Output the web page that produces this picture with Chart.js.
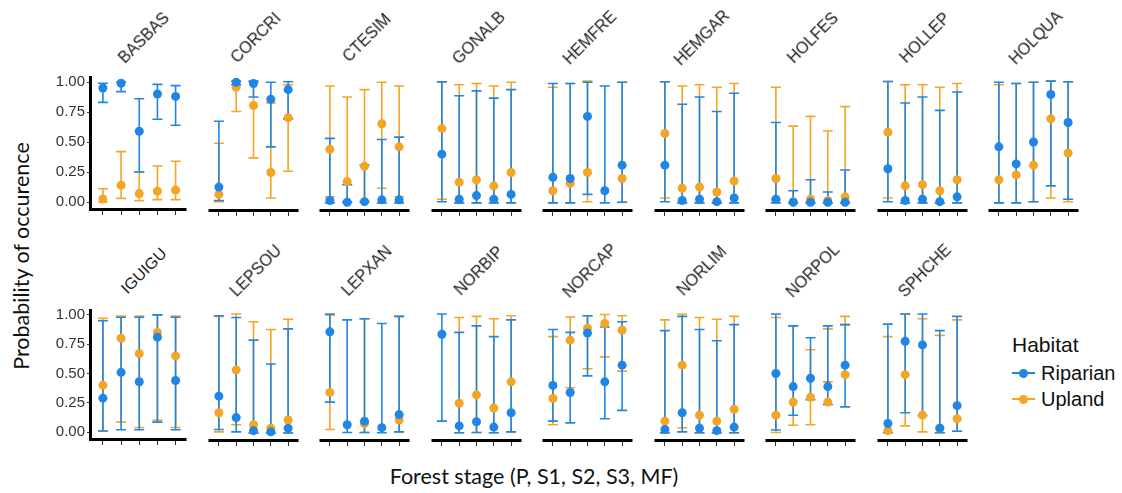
<!DOCTYPE html>
<html>
<head>
<meta charset="utf-8">
<script src="https://cdn.jsdelivr.net/npm/chart.js@4.4.0/dist/chart.umd.min.js"></script>
<style>
  body { margin: 0; background: #fff; width: 1122px; height: 493px; position: relative; overflow: hidden;
         font-family: "Liberation Sans", Arial, sans-serif; }
  .panel { position: absolute; }
  .strip { position: absolute; font-size: 16px; color: #1a1a1a; white-space: nowrap; line-height: 1;
           transform: translate(-50%, -50%) rotate(-45deg); }
  .title { position: absolute; font-family: Lato, "Open Sans", sans-serif; font-size: 21.5px; color: #111;
           white-space: nowrap; line-height: 1; transform: translate(-50%, -50%); }
  .legend { position: absolute; font-size: 20px; color: #111; line-height: 1; white-space: nowrap; }
  .key-line { position: absolute; width: 23px; height: 2px; }
  .key-dot { position: absolute; width: 9px; height: 9px; border-radius: 50%; }
</style>
</head>
<body>
<script>
const species = ['BASBAS', 'CORCRI', 'CTESIM', 'GONALB', 'HEMFRE', 'HEMGAR', 'HOLFES', 'HOLLEP', 'HOLQUA',
                 'IGUIGU', 'LEPSOU', 'LEPXAN', 'NORBIP', 'NORCAP', 'NORLIM', 'NORPOL', 'SPHCHE'];
const stages = ['P', 'S1', 'S2', 'S3', 'MF'];
const yTicks = [0, 0.25, 0.5, 0.75, 1];

// Riparian estimates and confidence limits, one row per species
const ripMean = [
  [0.95, 0.99, 0.59, 0.90, 0.88], [0.13, 0.99, 0.98, 0.85, 0.93], [0.02, 0.005, 0.01, 0.025, 0.025],
  [0.40, 0.03, 0.06, 0.03, 0.07], [0.21, 0.20, 0.71, 0.10, 0.31], [0.31, 0.02, 0.03, 0.01, 0.04],
  [0.03, 0.005, 0.005, 0.005, 0.005], [0.28, 0.02, 0.03, 0.01, 0.05], [0.46, 0.32, 0.50, 0.89, 0.66],
  [0.29, 0.51, 0.43, 0.81, 0.44], [0.31, 0.13, 0.02, 0.01, 0.04], [0.85, 0.07, 0.10, 0.045, 0.155],
  [0.83, 0.06, 0.095, 0.05, 0.17], [0.40, 0.34, 0.84, 0.43, 0.57], [0.03, 0.17, 0.04, 0.02, 0.05],
  [0.50, 0.39, 0.46, 0.39, 0.57], [0.08, 0.77, 0.74, 0.04, 0.23]
];
const ripLow = [
  [0.83, 0.92, 0.25, 0.69, 0.64], [0.02, 0.97, 0.87, 0.46, 0.69], [0.0, 0.005, 0.005, 0.0, 0.0],
  [0.01, 0.0, 0.0, 0.0, 0.0], [0.0, 0.0, 0.07, 0.0, 0.005], [0.01, 0.0, 0.0, 0.0, 0.0],
  [0.0, 0.0, 0.0, 0.0, 0.0], [0.01, 0.0, 0.0, 0.0, 0.0], [0.0, 0.0, 0.01, 0.14, 0.03],
  [0.01, 0.02, 0.02, 0.085, 0.02], [0.03, 0.01, 0.0, 0.0, 0.0], [0.26, 0.005, 0.005, 0.003, 0.01],
  [0.10, 0.003, 0.005, 0.003, 0.01], [0.10, 0.085, 0.48, 0.12, 0.19], [0.003, 0.01, 0.003, 0.003, 0.003],
  [0.025, 0.15, 0.28, 0.24, 0.22], [0.005, 0.17, 0.145, 0.003, 0.015]
];
const ripHigh = [
  [0.99, 1.0, 0.86, 0.98, 0.97], [0.67, 1.0, 1.0, 0.99, 0.995], [0.53, 0.15, 0.31, 0.52, 0.54],
  [0.995, 0.88, 0.92, 0.86, 0.93], [0.98, 0.98, 0.99, 0.96, 0.99], [0.995, 0.81, 0.87, 0.75, 0.90],
  [0.66, 0.10, 0.19, 0.09, 0.27], [0.997, 0.82, 0.87, 0.76, 0.91], [0.99, 0.98, 0.99, 1.0, 0.995],
  [0.95, 0.98, 0.98, 1.0, 0.98], [0.985, 0.97, 0.78, 0.58, 0.875], [1.0, 0.95, 0.96, 0.92, 0.98],
  [1.0, 0.845, 0.90, 0.81, 0.95], [0.87, 0.845, 0.985, 0.89, 0.935], [0.86, 0.98, 0.87, 0.775, 0.91],
  [1.0, 0.90, 0.80, 0.90, 0.91], [0.915, 1.0, 1.0, 0.86, 0.98]
];

// Upland estimates and confidence limits
const uplMean = [
  [0.025, 0.14, 0.07, 0.09, 0.10], [0.07, 0.95, 0.80, 0.25, 0.70], [0.44, 0.175, 0.30, 0.65, 0.46],
  [0.61, 0.17, 0.19, 0.14, 0.25], [0.10, 0.16, 0.25, null, 0.20], [0.57, 0.12, 0.13, 0.09, 0.18],
  [0.20, 0.01, 0.03, 0.02, 0.05], [0.58, 0.14, 0.15, 0.10, 0.19], [0.19, 0.23, 0.31, 0.69, 0.41],
  [0.40, 0.80, 0.67, 0.85, 0.65], [0.17, 0.53, 0.07, 0.04, 0.11], [0.34, null, 0.08, null, 0.11],
  [null, 0.25, 0.32, 0.21, 0.43], [0.29, 0.78, 0.88, 0.92, 0.865], [0.10, 0.57, 0.15, 0.10, 0.20],
  [0.15, 0.26, 0.30, 0.26, 0.49], [0.02, 0.49, 0.15, 0.04, 0.12]
];
const uplLow = [
  [0.0, 0.03, 0.01, 0.02, 0.02], [0.01, 0.75, 0.37, 0.04, 0.26], [0.05, 0.01, 0.02, 0.12, 0.05],
  [0.03, 0.0, 0.0, 0.0, 0.0], [0.0, 0.0, 0.01, null, 0.005], [0.04, 0.0, 0.0, 0.0, 0.0],
  [0.025, 0.0, 0.0, 0.0, 0.0], [0.04, 0.0, 0.0, 0.0, 0.0], [0.0, 0.0, 0.01, 0.04, 0.01],
  [0.01, 0.085, 0.04, 0.10, 0.04], [0.01, 0.07, 0.0, 0.0, 0.0], [0.03, null, 0.005, null, 0.01],
  [null, 0.003, 0.005, 0.003, 0.01], [0.07, 0.38, 0.54, 0.64, 0.52], [0.0, 0.045, 0.0, 0.0, 0.0],
  [0.005, 0.065, 0.07, 0.43, 0.91], [0.003, 0.06, 0.01, 0.003, 0.015]
];
const uplHigh = [
  [0.11, 0.42, 0.25, 0.30, 0.34], [0.49, 0.97, 0.99, 0.82, 0.97], [0.96, 0.87, 0.93, 0.99, 0.96],
  [0.99, 0.97, 0.98, 0.96, 0.99], [0.95, 0.98, 1.0, null, 0.99], [0.995, 0.96, 0.97, 0.95, 0.98],
  [0.95, 0.63, 0.71, 0.59, 0.79], [0.997, 0.97, 0.97, 0.95, 0.98], [0.97, 0.98, 0.99, 1.0, 0.995],
  [0.97, 0.99, 0.99, 1.0, 0.99], [0.98, 1.0, 0.935, 0.87, 0.955], [0.99, null, 0.96, null, 0.98],
  [null, 0.97, 0.98, 0.96, 0.985], [0.81, 0.975, 0.985, 0.995, 0.985], [0.95, 1.0, 0.97, 0.955, 0.98],
  [0.97, 0.90, 0.70, 0.875, 0.98], [0.81, 1.0, 0.96, 0.82, 0.95]
];

const BLUE = '#1f86e6';
const ORANGE = '#f5a524';
const perRow = 9;

// vertical whiskers with caps, drawn under the points
const errorBars = {
  id: 'errorBars',
  beforeDatasetsDraw(chart) {
    const { ctx, scales: { x, y } } = chart;
    ctx.save();
    ctx.lineWidth = 1.6;
    for (let d = chart.data.datasets.length - 1; d >= 0; d--) {
      const ds = chart.data.datasets[d];
      ctx.strokeStyle = ds.backgroundColor;
      ds.low.forEach((lo, i) => {
        const hi = ds.high[i];
        if (lo == null || hi == null) return;
        const px = x.getPixelForValue(i + 1);
        const y0 = y.getPixelForValue(lo);
        const y1 = y.getPixelForValue(hi);
        ctx.beginPath();
        ctx.moveTo(px, y0); ctx.lineTo(px, y1);
        ctx.moveTo(px - 5, y0); ctx.lineTo(px + 5, y0);
        ctx.moveTo(px - 5, y1); ctx.lineTo(px + 5, y1);
        ctx.stroke();
      });
    }
    ctx.restore();
  }
};

// thick black axis lines along the panel's bottom (and left for the first column)
const axisLines = {
  id: 'axisLines',
  afterDraw(chart, args, opts) {
    const { ctx, chartArea: a } = chart;
    ctx.save();
    ctx.strokeStyle = '#000';
    ctx.lineWidth = 3;
    ctx.beginPath();
    ctx.moveTo(opts.left ? a.left - 3 : a.left, a.bottom + 1.5);
    ctx.lineTo(a.right, a.bottom + 1.5);
    if (opts.left) {
      ctx.moveTo(a.left - 1.5, a.top);
      ctx.lineTo(a.left - 1.5, a.bottom + 3);
    }
    ctx.stroke();
    ctx.restore();
  }
};

function points(values) {
  return values.map((v, i) => ({ x: i + 1, y: v }));
}

function addDiv(cls, text, css) {
  const el = document.createElement('div');
  el.className = cls;
  if (text) el.textContent = text;
  Object.assign(el.style, css);
  document.body.appendChild(el);
  return el;
}

species.forEach((name, k) => {
  const row = k < perRow ? 0 : 1;
  const col = row ? k - perRow : k;
  const left = 92 + col * 111.5;
  const top = row ? 308 : 75;
  const h = row ? 131 : 134;
  const first = col === 0;
  const yW = first ? 50 : 0;

  const canvas = document.createElement('canvas');
  canvas.className = 'panel';
  canvas.width = 99 + yW;
  canvas.height = h + 20;
  canvas.style.left = (left - yW) + 'px';
  canvas.style.top = (top - 10) + 'px';
  document.body.appendChild(canvas);

  addDiv('strip', name, { left: (left + 52) + 'px', top: (top - 37) + 'px' });

  new Chart(canvas, {
    type: 'scatter',
    data: {
      datasets: [
        { label: 'Riparian', data: points(ripMean[k]), low: ripLow[k], high: ripHigh[k],
          backgroundColor: BLUE, borderWidth: 0, pointRadius: 4.5, clip: false },
        { label: 'Upland', data: points(uplMean[k]), low: uplLow[k], high: uplHigh[k],
          backgroundColor: ORANGE, borderWidth: 0, pointRadius: 4.5, clip: false }
      ]
    },
    options: {
      responsive: false,
      animation: false,
      devicePixelRatio: 1,
      layout: { padding: { top: 10 } },
      plugins: { legend: { display: false }, tooltip: { enabled: false }, axisLines: { left: first } },
      scales: {
        x: {
          type: 'linear', min: 0.4, max: 5.6,
          afterBuildTicks: s => { s.ticks = stages.map((_, i) => ({ value: i + 1 })); },
          afterFit: s => { s.height = 10; },
          ticks: { display: false },
          grid: { drawOnChartArea: false, drawTicks: true, tickLength: 7, tickWidth: 1, color: '#333' },
          border: { display: false }
        },
        y: {
          display: first,
          min: -0.05, max: 1.05,
          afterBuildTicks: s => { s.ticks = yTicks.map(v => ({ value: v })); },
          afterFit: s => { s.width = yW; },
          ticks: { callback: v => v.toFixed(2), color: '#333', padding: 2,
                   font: { size: 15, family: '"Liberation Sans", Arial, sans-serif' } },
          grid: { drawOnChartArea: false, drawTicks: true, tickLength: 5, tickWidth: 1, color: '#333' },
          border: { display: false }
        }
      }
    },
    plugins: [errorBars, axisLines]
  });
});

addDiv('title', 'Probability of occurence', { left: '22px', top: '256px', transform: 'translate(-50%, -50%) rotate(-90deg)' });
addDiv('title', 'Forest stage (P, S1, S2, S3, MF)', { left: '534px', top: '477px' });

addDiv('legend', 'Habitat', { left: '1012px', top: '334px', fontSize: '21px' });
[['Riparian', BLUE, 373], ['Upland', ORANGE, 399]].forEach(([label, color, cy]) => {
  addDiv('key-line', '', { left: '1012px', top: (cy - 1) + 'px', background: color });
  addDiv('key-dot', '', { left: '1019px', top: (cy - 4.5) + 'px', background: color });
  addDiv('legend', label, { left: '1041px', top: (cy - 10) + 'px' });
});
</script>
</body>
</html>
